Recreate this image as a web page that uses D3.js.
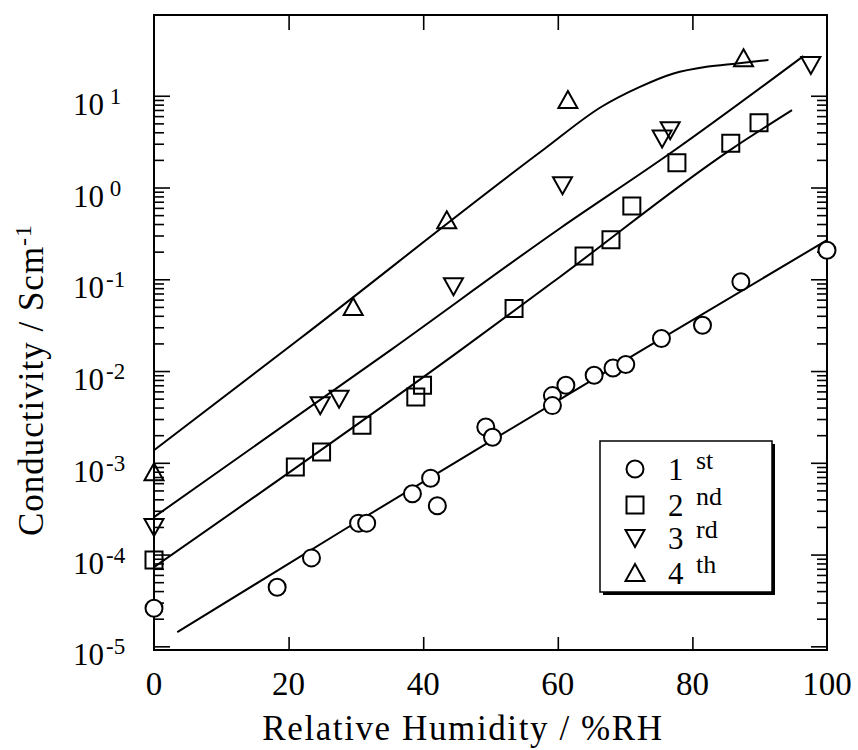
<!DOCTYPE html>
<html>
<head>
<meta charset="utf-8">
<script src="https://d3js.org/d3.v7.min.js"></script>
<style>
  body { margin: 0; background: #fff; }
  text { font-family: "Liberation Serif", "Times New Roman", serif; fill: #000; }
</style>
</head>
<body>
<div id="chart"></div>
<script>
var svgWidth = 858;
var svgHeight = 750;

var margin = { top: 15, right: 31, bottom: 100, left: 154 };
var width = svgWidth - margin.left - margin.right;
var height = svgHeight - margin.top - margin.bottom;

// measured points (RH %, conductivity S/cm)
var rh1 = [0, 18.3, 23.4, 30.4, 31.6, 38.4, 41.1, 42.1, 49.3, 50.3, 59.2, 59.2, 61.2, 65.4, 68.2, 70.1, 75.4, 81.5, 87.2, 100];
var sig1 = [2.6e-5, 4.4e-5, 9.2e-5, 2.2e-4, 2.2e-4, 4.6e-4, 6.8e-4, 3.4e-4, 2.45e-3, 1.9e-3, 5.4e-3, 4.2e-3, 7.0e-3, 9.0e-3, 1.08e-2, 1.18e-2, 2.26e-2, 3.16e-2, 9.4e-2, 0.207];

var rh2 = [0, 21.0, 24.9, 30.9, 38.9, 39.9, 53.5, 63.9, 67.9, 71.0, 77.7, 85.7, 89.9];
var sig2 = [8.7e-5, 9.0e-4, 1.31e-3, 2.56e-3, 5.2e-3, 7.0e-3, 4.8e-2, 0.179, 0.27, 0.63, 1.86, 3.03, 5.08];

var rh3 = [0, 24.7, 27.5, 44.5, 60.7, 75.5, 76.7, 97.6];
var sig3 = [2.0e-4, 4.24e-3, 5.0e-3, 8.4e-2, 1.06, 3.43, 4.2, 21.6];

var rh4 = [0, 29.6, 43.5, 61.5, 87.6];
var sig4 = [7.9e-4, 5.0e-2, 0.44, 8.97, 25.6];

// fitted curves
var fitRh1 = [3.46, 28.1, 49.4, 72.2, 100];
var fitSig1 = [1.43e-5, 1.84e-4, 1.62e-3, 1.64e-2, 0.267];
var fitRh2 = [0, 45.5, 60.3, 85.6, 94.8];
var fitSig2 = [7.3e-5, 1.68e-2, 0.106, 2.56, 6.98];
var fitRh3 = [0, 35.1, 60.3, 76.7, 96.5];
var fitSig3 = [2.56e-4, 1.68e-2, 0.358, 2.36, 27.1];
var fitRh4 = [0, 21.7, 57.8, 66.5, 72.2, 77.2, 82.1, 86.6, 91.3];
var fitSig4 = [1.37e-3, 2.26e-2, 2.56, 7.59, 12.5, 17.5, 20.7, 22.5, 24.5];

var xTicks = [0, 20, 40, 60, 80, 100];
var yExponents = [-5, -4, -3, -2, -1, 0, 1];
var legendNames = ["1", "2", "3", "4"];
var legendSups = ["st", "nd", "rd", "th"];

var svg = d3.select("#chart")
  .append("svg")
  .attr("width", svgWidth)
  .attr("height", svgHeight);

var chartGroup = svg.append("g")
  .attr("transform", `translate(${margin.left}, ${margin.top})`);

var xScale = d3.scaleLinear().domain([0, 100]).range([0, width]);
var yScale = d3.scaleLog().domain([Math.pow(10, -5.04), Math.pow(10, 1.88)]).range([height, 0]);

// log ticks: majors and minors up to 10^1
var majors = yExponents.map(e => Math.pow(10, e));
var minors = [];
yExponents.slice(0, -1).forEach(function(e) {
  for (var k = 2; k <= 9; k++) minors.push(k * Math.pow(10, e));
});

function styleAxis(g) {
  g.select(".domain").remove();
  g.selectAll("line").attr("stroke", "#000").attr("stroke-width", 1.6);
}

chartGroup.append("g")
  .call(d3.axisRight(yScale).tickValues(majors).tickSize(16).tickFormat(""))
  .call(styleAxis);
chartGroup.append("g")
  .call(d3.axisRight(yScale).tickValues(minors).tickSize(10).tickFormat(""))
  .call(styleAxis);
chartGroup.append("g")
  .attr("transform", `translate(${width}, 0)`)
  .call(d3.axisLeft(yScale).tickValues(majors).tickSize(16).tickFormat(""))
  .call(styleAxis);
chartGroup.append("g")
  .attr("transform", `translate(${width}, 0)`)
  .call(d3.axisLeft(yScale).tickValues(minors).tickSize(10).tickFormat(""))
  .call(styleAxis);

chartGroup.append("g")
  .call(d3.axisBottom(xScale).tickValues([20, 40, 60, 80]).tickSize(15).tickFormat(""))
  .call(styleAxis);
chartGroup.append("g")
  .attr("transform", `translate(0, ${height})`)
  .call(d3.axisTop(xScale).tickValues([20, 40, 60, 80]).tickSize(13).tickFormat(""))
  .call(styleAxis);

chartGroup.append("rect")
  .attr("width", width)
  .attr("height", height)
  .attr("fill", "none")
  .attr("stroke", "#000")
  .attr("stroke-width", 2);

// x tick labels
chartGroup.selectAll(".xlabel")
  .data(xTicks)
  .enter()
  .append("text")
  .attr("x", d => xScale(d))
  .attr("y", height + 45)
  .attr("text-anchor", "middle")
  .style("font-size", "33px")
  .text(d => d);

// y tick labels 10^n
var yLabels = chartGroup.selectAll(".ylabel")
  .data(yExponents)
  .enter()
  .append("text")
  .attr("x", -81)
  .attr("y", d => yScale(Math.pow(10, d)) + 19)
  .style("font-size", "31px");
yLabels.append("tspan").text("10");
yLabels.append("tspan")
  .attr("dy", -11)
  .attr("dx", d => d >= 0 ? 0 : 2)
  .style("font-size", "23px")
  .text(d => d >= 0 ? "\u00a0" + d : "-" + (-d));

// axis titles
svg.append("text")
  .attr("x", 463)
  .attr("y", 740)
  .attr("text-anchor", "middle")
  .style("font-size", "35px")
  .style("letter-spacing", "1.6px")
  .text("Relative Humidity / %RH");

var yTitle = svg.append("text")
  .attr("transform", "translate(43, 380) rotate(-90)")
  .attr("text-anchor", "middle")
  .style("font-size", "35px")
  .style("letter-spacing", "1px");
yTitle.append("tspan").text("Conductivity / Scm");
yTitle.append("tspan").attr("dy", -12).style("font-size", "24px").text("-1");

// marker shapes
function markerPath(type) {
  if (type === "square") return "M-8.5,-8.5H8.5V8.5H-8.5Z";
  if (type === "down") return "M-9.5,-8L9.5,-8L0,9Z";
  if (type === "up") return "M0,-9L9.5,8L-9.5,8Z";
  return null;
}

var series = [
  { rh: rh1, sig: sig1, fitRh: fitRh1, fitSig: fitSig1, shape: "circle" },
  { rh: rh2, sig: sig2, fitRh: fitRh2, fitSig: fitSig2, shape: "square" },
  { rh: rh3, sig: sig3, fitRh: fitRh3, fitSig: fitSig3, shape: "down" },
  { rh: rh4, sig: sig4, fitRh: fitRh4, fitSig: fitSig4, shape: "up" }
];

var line = d3.line()
  .x(d => xScale(d[0]))
  .y(d => yScale(d[1]))
  .curve(d3.curveMonotoneX);

series.forEach(function(s) {
  chartGroup.append("path")
    .datum(s.fitRh.map((r, i) => [r, s.fitSig[i]]))
    .attr("d", line)
    .attr("fill", "none")
    .attr("stroke", "#000")
    .attr("stroke-width", 2);
});

function drawMarker(g, shape, x, y) {
  if (shape === "circle") {
    g.append("circle")
      .attr("cx", x).attr("cy", y).attr("r", 8.5)
      .attr("fill", "#fff").attr("stroke", "#000").attr("stroke-width", 2);
  } else {
    g.append("path")
      .attr("d", markerPath(shape))
      .attr("transform", `translate(${x}, ${y})`)
      .attr("fill", "none").attr("stroke", "#000").attr("stroke-width", 2);
  }
}

series.forEach(function(s) {
  s.rh.forEach(function(r, i) {
    drawMarker(chartGroup, s.shape, xScale(r), yScale(s.sig[i]));
  });
});

// legend
var legend = svg.append("g");
legend.append("rect")
  .attr("x", 603).attr("y", 444).attr("width", 172).attr("height", 151)
  .attr("fill", "#000");
legend.append("rect")
  .attr("x", 600).attr("y", 441).attr("width", 172).attr("height", 151)
  .attr("fill", "#fff").attr("stroke", "#000").attr("stroke-width", 1.5);

var rowY = [469, 505, 538, 573];
series.forEach(function(s, i) {
  drawMarker(legend, s.shape, 635, rowY[i]);
  var t = legend.append("text")
    .attr("x", 668)
    .attr("y", rowY[i] + 11)
    .style("font-size", "31px");
  t.append("tspan").text(legendNames[i]);
  t.append("tspan")
    .attr("x", 696)
    .attr("dy", -11)
    .style("font-size", "26px")
    .text(legendSups[i]);
});
</script>
</body>
</html>
